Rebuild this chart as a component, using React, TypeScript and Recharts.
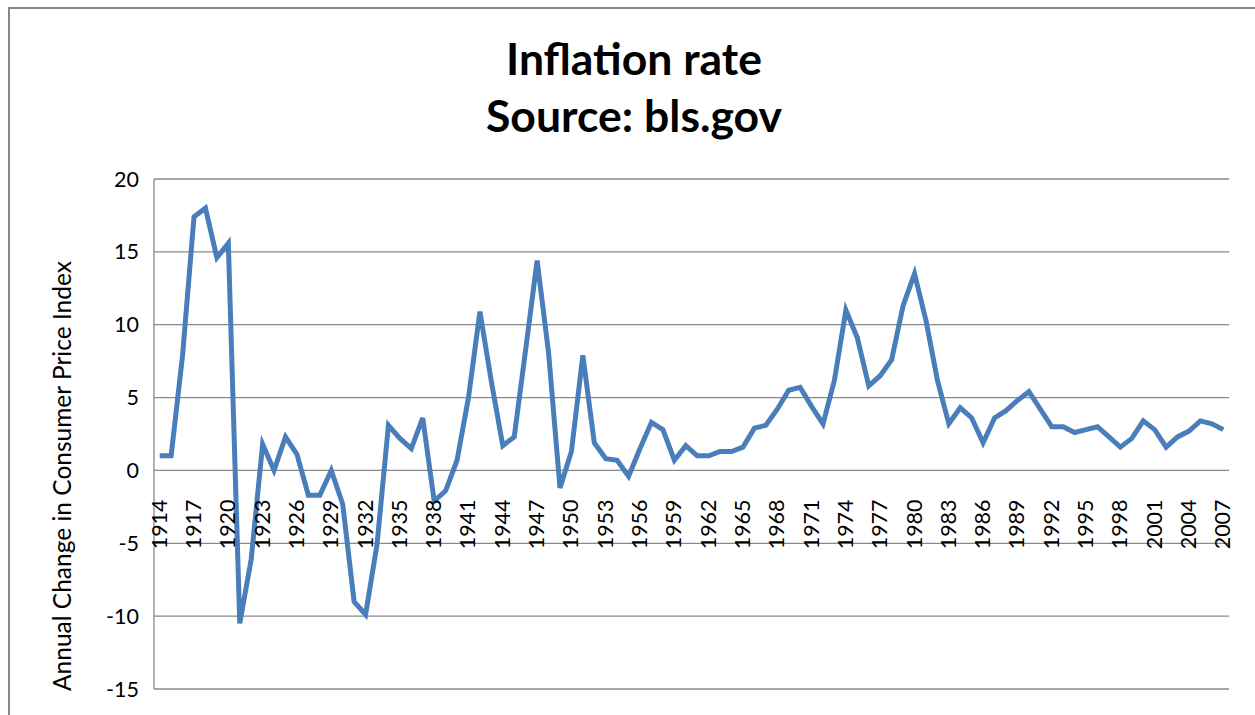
import { LineChart, Line, XAxis, YAxis, CartesianGrid } from 'recharts';

// Annual change in CPI, 1914-2007
const years = [
  1914, 1915, 1916, 1917, 1918, 1919, 1920, 1921, 1922, 1923, 1924, 1925, 1926, 1927, 1928, 1929,
  1930, 1931, 1932, 1933, 1934, 1935, 1936, 1937, 1938, 1939, 1940, 1941, 1942, 1943, 1944, 1945,
  1946, 1947, 1948, 1949, 1950, 1951, 1952, 1953, 1954, 1955, 1956, 1957, 1958, 1959, 1960, 1961,
  1962, 1963, 1964, 1965, 1966, 1967, 1968, 1969, 1970, 1971, 1972, 1973, 1974, 1975, 1976, 1977,
  1978, 1979, 1980, 1981, 1982, 1983, 1984, 1985, 1986, 1987, 1988, 1989, 1990, 1991, 1992, 1993,
  1994, 1995, 1996, 1997, 1998, 1999, 2000, 2001, 2002, 2003, 2004, 2005, 2006, 2007
];

const inflation = [
  1.0, 1.0, 7.9, 17.4, 18.0, 14.6, 15.6, -10.5, -6.1, 1.8, 0.0, 2.3, 1.1, -1.7, -1.7, 0.0,
  -2.3, -9.0, -9.9, -5.1, 3.1, 2.2, 1.5, 3.6, -2.1, -1.4, 0.7, 5.0, 10.9, 6.1, 1.7, 2.3,
  8.3, 14.4, 8.1, -1.2, 1.3, 7.9, 1.9, 0.8, 0.7, -0.4, 1.5, 3.3, 2.8, 0.7, 1.7, 1.0,
  1.0, 1.3, 1.3, 1.6, 2.9, 3.1, 4.2, 5.5, 5.7, 4.4, 3.2, 6.2, 11.0, 9.1, 5.8, 6.5,
  7.6, 11.3, 13.5, 10.3, 6.2, 3.2, 4.3, 3.6, 1.9, 3.6, 4.1, 4.8, 5.4, 4.2, 3.0, 3.0,
  2.6, 2.8, 3.0, 2.3, 1.6, 2.2, 3.4, 2.8, 1.6, 2.3, 2.7, 3.4, 3.2, 2.8
];

const yTicks = [-15, -10, -5, 0, 5, 10, 15, 20];

const data = years.map((year, i) => ({ year, value: inflation[i] }));

const WIDTH = 1255;
const HEIGHT = 715;
const TOP = 179;
const BOTTOM = 26;
const Y_MIN = -15;
const Y_MAX = 20;
const PLOT_H = HEIGHT - TOP - BOTTOM;
// category labels hang below the zero line, like the Excel original
const ZERO_Y = TOP + (PLOT_H * Y_MAX) / (Y_MAX - Y_MIN);

const FONT = 'Lato, "Open Sans", sans-serif';
const GRID = '#898989';

const YearTick = ({ x, payload }: any) => (
  <g transform={`translate(${x},${ZERO_Y + 29})`}>
    <text
      x={0}
      y={0}
      dy={7}
      textAnchor="end"
      transform="rotate(-90)"
      fontFamily={FONT}
      fontSize={21.5}
      fill="#000"
    >
      {payload.value}
    </text>
  </g>
);

const App = () => {
  return (
    <div style={{ position: 'fixed', left: 0, top: 0, width: WIDTH, height: HEIGHT, overflow: 'hidden', background: '#fff' }}>
      <div
        style={{
          position: 'absolute',
          left: 8,
          top: 7,
          width: WIDTH + 20,
          height: HEIGHT + 20,
          borderTop: '2px solid #878787',
          borderLeft: '2px solid #878787'
        }}
      />
      <div
        style={{
          position: 'absolute',
          left: 0,
          top: 29,
          width: 1268,
          textAlign: 'center',
          fontFamily: FONT,
          fontWeight: 700,
          fontSize: 44.5,
          lineHeight: '57px',
          color: '#000'
        }}
      >
        Inflation rate
        <br />
        Source: bls.gov
      </div>
      <div style={{ position: 'absolute', left: 0, top: 0 }}>
        <LineChart width={WIDTH} height={HEIGHT} data={data} margin={{ top: TOP, right: 26, bottom: 0, left: 0 }}>
          <CartesianGrid vertical={false} stroke={GRID} strokeWidth={1.3} />
          <XAxis
            dataKey="year"
            interval={2}
            height={BOTTOM}
            axisLine={false}
            tickLine={false}
            padding={{ left: 5.7, right: 5.7 }}
            tick={<YearTick />}
          />
          <YAxis
            domain={[Y_MIN, Y_MAX]}
            ticks={yTicks}
            width={154}
            axisLine={{ stroke: GRID, strokeWidth: 1.3 }}
            tickLine={false}
            tickSize={0}
            tickMargin={15}
            tick={{ fontFamily: FONT, fontSize: 21.5, fill: '#000' }}
            label={{
              value: 'Annual Change in Consumer Price Index',
              angle: -90,
              position: 'insideLeft',
              offset: 0,
              dx: 62,
              dy: 42,
              style: { fontFamily: FONT, fontSize: 24.5, fill: '#000', textAnchor: 'middle' }
            }}
          />
          <Line
            type="linear"
            dataKey="value"
            stroke="#4a7ebb"
            strokeWidth={5}
            dot={false}
            isAnimationActive={false}
          />
        </LineChart>
      </div>
    </div>
  );
};

export default App;
